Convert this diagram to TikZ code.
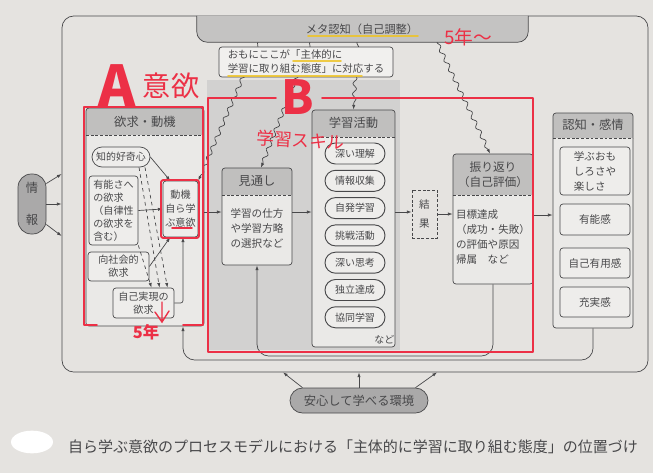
\documentclass[tikz,border=0pt]{standalone}
\usepackage{fontspec}
\setmainfont{Noto Sans CJK JP}
\usetikzlibrary{calc,positioning,arrows.meta,shapes.misc,decorations.pathmorphing}

\definecolor{paper}{RGB}{229,227,224}
\definecolor{ink}{RGB}{72,72,74}
\definecolor{headc}{RGB}{192,191,190}
\definecolor{bodyc}{RGB}{234,233,231}
\definecolor{innerc}{RGB}{238,237,235}
\definecolor{callc}{RGB}{241,240,238}
\definecolor{pillc}{RGB}{170,169,169}
\definecolor{barc}{RGB}{196,195,194}
\definecolor{shadowc}{RGB}{210,209,208}
\definecolor{pen}{RGB}{236,48,70}
\definecolor{marker}{RGB}{238,196,40}

\tikzset{
  sz/.style 2 args={minimum width=#1*0.03cm, minimum height=#2*0.03cm},
  box/.style={draw=ink, fill=bodyc, line width=0.6pt, rounded corners=2.5pt, inner sep=0pt, text=ink},
  hbox/.style={box, path picture={
      \fill[headc, sharp corners] (path picture bounding box.north west) rectangle ([yshift=-#1*0.03cm]path picture bounding box.north east);
      \draw[ink, line width=0.6pt, dash pattern=on 2.5pt off 1.5pt] ([yshift=-#1*0.03cm]path picture bounding box.north west) -- ([yshift=-#1*0.03cm]path picture bounding box.north east);}},
  pill/.style={box, rounded rectangle, sharp corners, fill=innerc, line width=0.8pt},
  ttl/.style={font=\fontsize{10.5}{13}\selectfont, text=ink, align=center},
  txt/.style={font=\fontsize{9}{12.8}\selectfont, text=ink},
  sml/.style={font=\fontsize{8.5}{11.5}\selectfont, text=ink},
  stxt/.style={font=\fontsize{8.6}{11}\selectfont, text=ink},
  arr/.style={draw=ink, line width=0.6pt, -{Latex[length=4pt,width=2.8pt]}},
  wavy/.style={arr, decorate, decoration={snake, amplitude=1.6pt, segment length=9pt, post length=4pt, pre length=1pt}},
  redpen/.style={draw=pen, line width=1.6pt, line cap=round, line join=round},
  hand/.style={text=pen, inner sep=0pt},
  hilite/.style={draw=marker, line width=1.6pt, line cap=round, opacity=0.85}
}

\begin{document}
\begin{tikzpicture}[x=0.03cm, y=-0.03cm]
  \useasboundingbox (0,0) rectangle (653,473);
  \fill[paper] (0,0) rectangle (653,473);
  \fill[shadowc] (207,80) rectangle (400,350);

  % outer frame and meta bar
  \node[draw=ink, line width=0.6pt, rounded corners=10pt, sz={586}{356}] (frame) at (355,194) {};
  \node[sz={331}{26}, inner sep=0pt] (meta) at (362.5,29) {};
  \draw[ink, fill=barc, line width=0.6pt, rounded corners=9pt] (meta.north west) -- (meta.south west) -- (meta.south east) -- (meta.north east);
  \node[ttl, font=\fontsize{9.6}{12}\selectfont] (meta-t) at (362,29) {メタ認知（自己調整）};

  % info
  \node[box, fill=pillc, rounded corners=0.4cm, sz={28}{60}, align=center, font=\fontsize{10.5}{27}\selectfont] (joho) at (32,204) {情\\報};
  \draw[arr] (joho.55) -- (frame.west |- 0,174);
  \draw[arr] (joho.east) -- (frame.west |- 0,204);
  \draw[arr] (joho.-55) -- (frame.west |- 0,236);

  % needs and motives
  \node[hbox=27, sz={118}{218}] (yokkyu) at (145,217) {};
  \node[ttl] (yokkyu-t) at ($(yokkyu.north)+(0,14)$) {欲求・動機};
  \node[pill, sz={58}{20}, sml, line width=0.6pt] (kouki) at (121,157) {知的好奇心};
  \node[box, fill=innerc, sz={49}{69}, align=left, stxt] (yuno) at (113.5,210.5) {有能さへ\\の欲求\\（自律性\\の欲求を\\含む）};
  \node[box, fill=innerc, sz={61}{29}, align=center, stxt] (kousha) at (118.5,266.5) {向社会的\\欲求};
  \node[box, fill=innerc, sz={61}{30}, align=center, stxt] (jiko) at (143.5,303) {自己実現の\\欲求};
  \node[box, fill=innerc, sz={35}{56}, align=center, font=\fontsize{8.6}{12}\selectfont] (douki) at (180.5,209) {動機\\自ら学\\ぶ意欲};

  \draw[arr] (kouki.east) -- (douki.110);
  \draw[arr] (yuno.east) -- (douki.west);
  \draw[arr] (kousha.east) -- (douki.250);
  \draw[arr, rounded corners=2pt] (jiko.east) -| (douki.-85);
  \draw[arr, dashed] ($(kouki.south)+(18,0)$) -- ($(jiko.north)+(16,0)$);
  \draw[arr, dashed] ($(kouki.south)+(24,0)$) -- ($(jiko.north)+(24,0)$);
  \draw[arr, dashed] (yuno.south east) -- ($(jiko.north)+(8,0)$);

  % outlook
  \node[hbox=27, sz={70}{97}] (mitoshi) at (257,216.5) {};
  \node[ttl] (mitoshi-t) at ($(mitoshi.north)+(0,13.5)$) {見通し};
  \node[txt, align=left] (mitoshi-c) at ($(mitoshi.north)+(0,61)$) {学習の仕方\\や学習方略\\の選択など};

  % learning activities
  \node[hbox=27, sz={83}{237}] (gakushu) at (353.5,228.5) {};
  \node[ttl] (gakushu-t) at ($(gakushu.north)+(0,13.5)$) {学習活動};
  \foreach \name/\label [count=\i] in {rikai/深い理解, shushu/情報収集, jihatsu/自発学習, chosen/挑戦活動, shiko/深い思考, dokuritsu/独立達成, kyodo/協同学習}
    \node[pill, sz={60}{21}, sml] (\name) at (355,{126.2+27.3*\i}) {\label};
  \node[sml] (gakushu-etc) at ($(gakushu.south east)+(-11,-8)$) {など};

  % result
  \node[draw=ink, dash pattern=on 2.5pt off 1.5pt, line width=0.7pt, sz={25}{48}, align=center, inner sep=0pt, text=ink, font=\fontsize{9}{17}\selectfont] (kekka) at (424.5,214) {結\\果};

  % reflection
  \node[hbox=41, sz={80}{130}] (furikaeri) at (493,219) {};
  \node[ttl, font=\fontsize{10}{12.8}\selectfont] (furikaeri-t) at ($(furikaeri.north)+(0,20.5)$) {振り返り\\（自己評価）};
  \node[txt, align=left] (furikaeri-c) at ($(furikaeri.north)+(0,83)$) {目標達成\\（成功・失敗）\\の評価や原因\\帰属　など};

  % cognition and emotion
  \node[hbox=25, sz={80}{215}] (ninchi) at (593,220.5) {};
  \node[ttl] (ninchi-t) at ($(ninchi.north)+(0,12.5)$) {認知・感情};
  \node[box, fill=innerc, sz={70}{48}, txt, align=left] (tanoshisa) at (595,171) {学ぶおも\\しろさや\\楽しさ};
  \node[box, fill=innerc, sz={70}{31}, txt] (yunokan) at (595,219.5) {有能感};
  \node[box, fill=innerc, sz={70}{30}, txt] (yuyokan) at (595,263) {自己有用感};
  \node[box, fill=innerc, sz={70}{30}, txt] (jujitsukan) at (595,302) {充実感};

  % main flow
  \draw[arr] (yokkyu.east |- 0,212) -- (mitoshi.west |- 0,212);
  \draw[arr] (mitoshi.east |- 0,212) -- (gakushu.west |- 0,212);
  \draw[arr] (gakushu.east |- 0,212) -- (kekka.west |- 0,212);
  \draw[arr] (kekka.east |- 0,214) -- (furikaeri.west |- 0,214);
  \draw[arr] (furikaeri.east |- 0,215) -- (ninchi.west |- 0,215);

  % feedback
  \draw[arr, rounded corners=10pt] (ninchi.south) -- (ninchi.south |- 0,360) -| ($(yokkyu.south)+(38,0)$);
  \draw[arr, rounded corners=10pt] (furikaeri.south) -- (furikaeri.south |- 0,356) -| (mitoshi.south);

  % metacognition
  \draw[wavy] (meta.south -| 258,0) -- (douki.north east);
  \draw[wavy] (meta.south -| 310,0) -- ($(mitoshi.north)+(4,0)$);
  \draw[wavy] (meta.south -| 357,0) -- (gakushu.north);
  \draw[wavy] (meta.south -| 437,0) -- ($(furikaeri.north)+(-3,0)$);
  \node[box, fill=callc, sz={174}{30}, align=left, font=\fontsize{8.9}{12}\selectfont] (callout) at (306,62) {おもにここが「主体的に\\学習に取り組む態度」に対応する};

  % environment
  \node[box, pill, fill=pillc, line width=0.6pt, sz={138}{25}, font=\fontsize{10.5}{12}\selectfont] (anshin) at (359,400.5) {安心して学べる環境};
  \draw[arr] (anshin.north west) -- (frame.south -| 283,0);
  \draw[arr] (anshin.north) -- (frame.south -| 359,0);
  \draw[arr] (anshin.north east) -- (frame.south -| 437,0);

  % marker and pen
  \draw[hilite] (308,36) -- (418,36);
  \draw[hilite] (293,61) -- (341,61);
  \draw[hilite] (228,76) -- (362,76);
  \draw[redpen] (97,325) -- (84,325) -- (84,107) -- (203,107) -- (203,325) -- (183,325);
  \draw[redpen, rounded corners=2pt] (161,180) rectangle (199,238);
  \draw[redpen, line width=1.3pt] (172,228) -- (192,228);
  \draw[redpen] (276,98) -- (208,98) -- (208,352) -- (533,352) -- (533,98) -- (322,98);
  \draw[pen, line width=1.2pt, line cap=round] (162,302) -- (162,322) (155,312) -- (162,322) -- (169,311);
  \node[hand, font=\fontsize{48}{48}\bfseries] (mark-a) at (117,86) {A};
  \node[hand, font=\fontsize{24}{24}\selectfont] (mark-iyoku) at (171,86) {意欲};
  \node[hand, font=\fontsize{14}{14}\bfseries] (mark-5) at (146,332) {5年};
  \node[hand, font=\fontsize{40}{40}\bfseries] (mark-b) at (298,97) {B};
  \node[hand, rotate=-3, font=\fontsize{15}{15}\selectfont] (mark-skill) at (301,140) {学習スキル};
  \node[hand, font=\fontsize{16}{16}\selectfont] (mark-5up) at (468,37) {5年～};

  % caption
  \fill[white] (32,442) ellipse (0.63cm and 0.34cm);
  \node[font=\fontsize{12.8}{14}\selectfont, text=ink] (caption) at (353,447) {自ら学ぶ意欲のプロセスモデルにおける「主体的に学習に取り組む態度」の位置づけ};
\end{tikzpicture}
\end{document}
